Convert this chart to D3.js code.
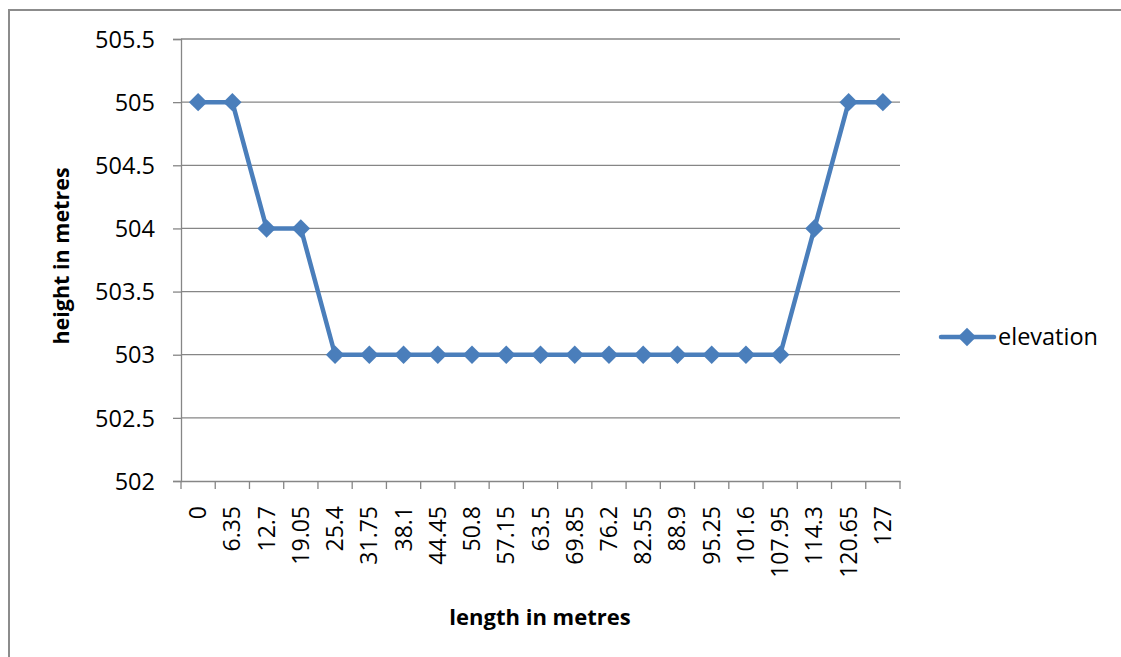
<!DOCTYPE html>
<html>
<head>
<meta charset="utf-8">
<script src="https://cdn.jsdelivr.net/npm/d3@7/dist/d3.min.js"></script>
<style>
html,body{margin:0;padding:0;background:#fff;}
svg{display:block;}
text{font-family:"Open Sans","Noto Sans",sans-serif;fill:#000;}
</style>
</head>
<body>
<svg id="chart" width="1121" height="657"></svg>
<script>
const categories = ["0","6.35","12.7","19.05","25.4","31.75","38.1","44.45","50.8","57.15","63.5","69.85","76.2","82.55","88.9","95.25","101.6","107.95","114.3","120.65","127"];
const elevation = [505,505,504,504,503,503,503,503,503,503,503,503,503,503,503,503,503,503,504,505,505];
const yTicks = [502,502.5,503,503.5,504,504.5,505,505.5];
const seriesName = "elevation";
const xTitle = "length in metres";
const yTitle = "height in metres";

const svg = d3.select("#chart");
const gray = "#868686";
const blue = "#4a7ebb";

// outer frame
svg.append("rect").attr("x",9).attr("y",10).attr("width",1130).attr("height",670)
  .attr("fill","none").attr("stroke","#8c8c8c").attr("stroke-width",2);

const pLeft = 181, pRight = 900, pTop = 39, pBottom = 481;
const x = d3.scaleBand().domain(categories).range([pLeft,pRight]);
const y = d3.scaleLinear().domain([502,505.5]).range([pBottom,pTop]);

// gridlines
svg.append("g").selectAll("line").data(yTicks.slice(1)).join("line")
  .attr("x1",pLeft).attr("x2",pRight)
  .attr("y1",d=>y(d)).attr("y2",d=>y(d))
  .attr("stroke",gray).attr("stroke-width",1.3);

// y axis
const yAxis = svg.append("g").attr("transform",`translate(${pLeft},0)`)
  .call(d3.axisLeft(y).tickValues(yTicks).tickSize(8).tickPadding(18).tickFormat(d=>String(d)));
yAxis.select(".domain").attr("stroke",gray).attr("stroke-width",1.3);
yAxis.selectAll(".tick line").attr("stroke",gray).attr("stroke-width",1.3);
yAxis.selectAll(".tick text").attr("font-size","23.5px").attr("font-family","'Open Sans',sans-serif").attr("fill","#000").attr("dy","0.35em");

// x axis
const xAxis = svg.append("g").attr("transform",`translate(0,${pBottom})`)
  .call(d3.axisBottom(x).tickSize(0).tickPadding(0));
xAxis.select(".domain").attr("stroke",gray).attr("stroke-width",1.3);
const bounds = categories.map(c=>x(c)).concat([x(categories[categories.length-1])+x.bandwidth()]);
xAxis.append("g").selectAll("line").data(bounds).join("line")
  .attr("x1",d=>d).attr("x2",d=>d).attr("y1",0).attr("y2",8)
  .attr("stroke",gray).attr("stroke-width",1.3);
xAxis.selectAll(".tick text")
  .attr("font-size","23px").attr("font-family","'Open Sans',sans-serif").attr("fill","#000")
  .attr("text-anchor","end").attr("dy",null)
  .attr("transform","translate(8,25) rotate(-90)")
  .attr("x",0).attr("y",0);

// line
const line = d3.line().x((d,i)=>x(categories[i])+x.bandwidth()/2).y(d=>y(d));
svg.append("path").datum(elevation).attr("d",line)
  .attr("fill","none").attr("stroke",blue).attr("stroke-width",4.5).attr("stroke-linejoin","round");

const diamond = d3.symbol().type(d3.symbolSquare).size(170);
svg.append("g").selectAll("path").data(elevation).join("path")
  .attr("d",diamond)
  .attr("transform",(d,i)=>`translate(${x(categories[i])+x.bandwidth()/2},${y(d)}) rotate(45)`)
  .attr("fill",blue);

// axis titles
svg.append("text").attr("x",540).attr("y",625).attr("text-anchor","middle")
  .attr("font-weight","bold").attr("font-size","22px").text(xTitle);
svg.append("text").attr("transform","translate(69,256) rotate(-90)").attr("text-anchor","middle")
  .attr("font-weight","bold").attr("font-size","21.5px").text(yTitle);

// legend
const lg = svg.append("g");
lg.append("line").attr("x1",941).attr("x2",994).attr("y1",337).attr("y2",337)
  .attr("stroke",blue).attr("stroke-width",4.5).attr("stroke-linecap","round");
lg.append("path").attr("d",diamond).attr("transform","translate(967,337) rotate(45)").attr("fill",blue);
lg.append("text").attr("x",998).attr("y",337).attr("dy","0.35em").attr("font-size","23.5px").text(seriesName);
</script>
</body>
</html>
